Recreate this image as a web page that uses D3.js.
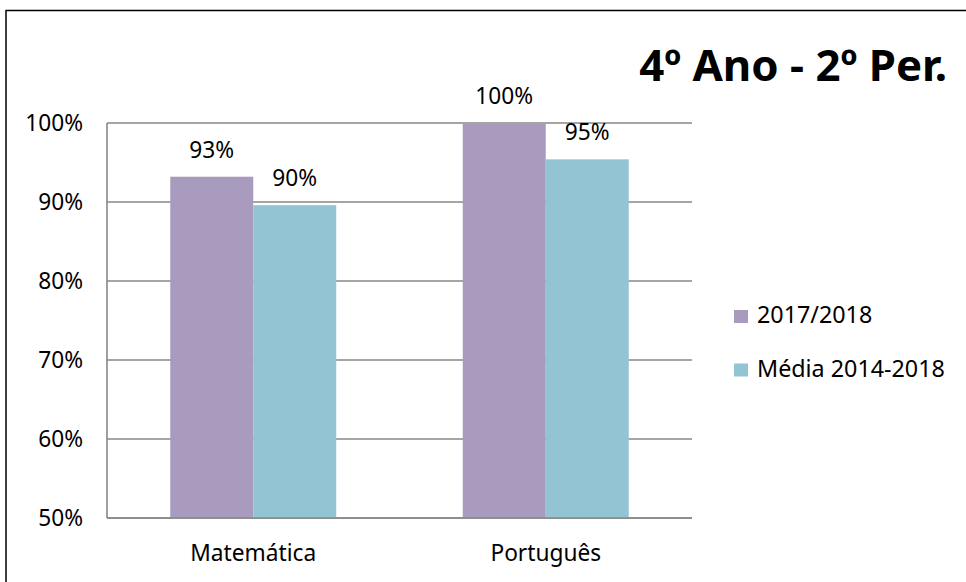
<!DOCTYPE html>
<html><head><meta charset="utf-8">
<script src="https://cdn.jsdelivr.net/npm/d3@7"></script>
<style>body{margin:0;background:#fff}svg{display:block}</style>
</head><body>
<svg id="c" width="966" height="582"></svg>
<script>
const categories = ["Matemática", "Português"];
const seriesNames = ["2017/2018", "Média 2014-2018"];
const values2017 = [93.2, 100];
const valuesMedia = [89.6, 95.4];
const labels2017 = ["93%", "100%"];
const labelsMedia = ["90%", "95%"];
const yTicks = [50, 60, 70, 80, 90, 100];
const colors = ["#A99BBE", "#93C4D4"];
const title = "4º Ano - 2º Per.";

(function () {
const font = "'Noto Sans', 'DejaVu Sans', sans-serif";
const svg = d3.select("#c");

// frame
svg.append("rect").attr("x", 6).attr("y", 10.5).attr("width", 1000).attr("height", 1000)
  .attr("fill", "none").attr("stroke", "#000").attr("stroke-width", 1.5);

const pLeft = 107, pRight = 692, pTop = 123, pBottom = 518;
const x = d3.scaleBand().domain(categories).range([pLeft, pRight]).paddingInner(0.4325).paddingOuter(0.4325 / 2);
const xs = d3.scaleBand().domain(seriesNames).range([0, x.bandwidth()]);
const y = d3.scaleLinear().domain([50, 100]).range([pBottom, pTop]);

// gridlines
svg.append("g").selectAll("line").data(yTicks).join("line")
  .attr("x1", pLeft).attr("x2", pRight)
  .attr("y1", d => y(d)).attr("y2", d => y(d))
  .attr("stroke", "#878787").attr("stroke-width", 1.6);
// y axis line
svg.append("line").attr("x1", pLeft).attr("x2", pLeft).attr("y1", pTop).attr("y2", pBottom)
  .attr("stroke", "#878787").attr("stroke-width", 1.6);

// y tick labels
svg.append("g").selectAll("text").data(yTicks).join("text")
  .attr("x", 83).attr("y", d => y(d)).attr("dy", "0.36em")
  .attr("text-anchor", "end").attr("font-family", font).attr("font-size", 22.7).attr("fill", "#000")
  .text(d => d + "%");

const data = categories.map((c, i) => ({ c, vals: [values2017[i], valuesMedia[i]], labs: [labels2017[i], labelsMedia[i]] }));
const groups = svg.append("g").selectAll("g").data(data).join("g")
  .attr("transform", d => `translate(${x(d.c)},0)`);
groups.selectAll("rect").data(d => d.vals.map((v, j) => ({ v, s: seriesNames[j], j }))).join("rect")
  .attr("x", d => xs(d.s)).attr("width", xs.bandwidth())
  .attr("y", d => y(d.v)).attr("height", d => pBottom - y(d.v))
  .attr("fill", d => colors[d.j]);
groups.selectAll("text").data(d => d.vals.map((v, j) => ({ v, s: seriesNames[j], lab: d.labs[j] }))).join("text")
  .attr("x", d => xs(d.s) + xs.bandwidth() / 2).attr("y", d => y(d.v) - 19)
  .attr("text-anchor", "middle").attr("font-family", font).attr("font-size", 22.7).attr("fill", "#000")
  .text(d => d.lab);

// bottom axis line
svg.append("line").attr("x1", pLeft).attr("x2", pRight).attr("y1", pBottom).attr("y2", pBottom)
  .attr("stroke", "#878787").attr("stroke-width", 1.6);

// category labels
svg.append("g").selectAll("text").data(categories).join("text")
  .attr("x", d => x(d) + x.bandwidth() / 2).attr("y", 561)
  .attr("text-anchor", "middle").attr("font-family", font).attr("font-size", 22.7).attr("fill", "#000")
  .text(d => d);

// legend
const leg = svg.append("g").selectAll("g").data(seriesNames).join("g")
  .attr("transform", (d, i) => `translate(734,${323 + i * 53.5})`);
leg.append("rect").attr("x", 0).attr("y", -13).attr("width", 14).attr("height", 13)
  .attr("fill", (d, i) => colors[i]);
leg.append("text").attr("x", 23).attr("y", 0)
  .attr("font-family", font).attr("font-size", 23.3).attr("fill", "#000").text(d => d);

// title
svg.append("text").attr("x", 947).attr("y", 81).attr("text-anchor", "end")
  .attr("font-family", font).attr("font-weight", "bold").attr("font-size", 43.8).attr("fill", "#000")
  .text(title);
})();
</script>
</body></html>
